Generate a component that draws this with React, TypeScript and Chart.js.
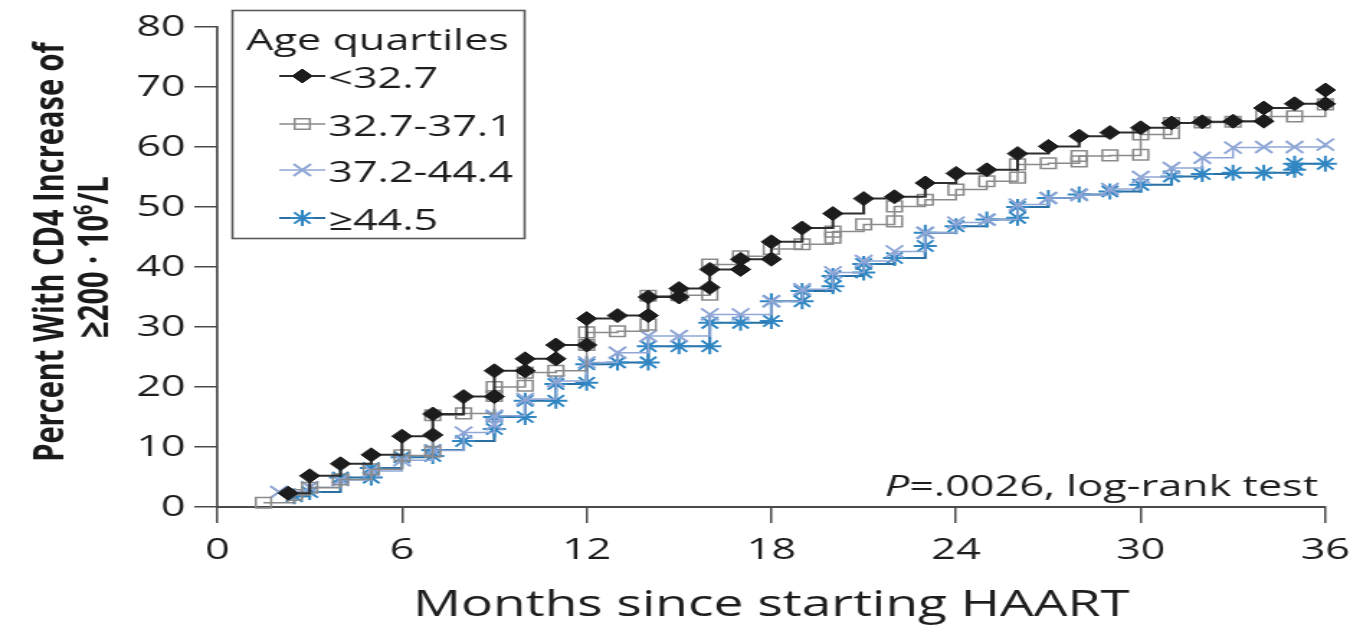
import React, { useEffect, useRef } from 'react';
import { Chart, registerables } from 'chart.js';

Chart.register(...registerables);

// The chart is rendered on a narrower backing canvas and widened with CSS.
const CANVAS_W = 947;
const CANVAS_H = 628;
const PAGE_W = 1363;

const FONT = '"Open Sans", "DejaVu Sans", sans-serif';

const xTickValues = [0, 6, 12, 18, 24, 30, 36];
const yTickValues = [0, 10, 20, 30, 40, 50, 60, 70, 80];

const legendTitle = 'Age quartiles';
const groupLabels = ['<32.7', '32.7-37.1', '37.2-44.4', '≥44.5'];

// <32.7 years
const under327Months = [2.3, 3, 4, 5, 6, 7, 7, 8, 9, 9, 10, 10, 11, 11, 12, 12, 13, 14, 14, 15, 15, 16, 16, 17, 17, 18, 18, 19, 20, 21, 22, 23, 24, 25, 26, 27, 28, 29, 30, 31, 32, 33, 34, 34, 35, 36, 36];
const under327Pct = [2.3, 5.2, 7.2, 8.7, 11.8, 12.0, 15.5, 18.4, 18.4, 22.7, 22.7, 24.7, 24.7, 27.0, 27.0, 31.4, 31.9, 31.9, 35.0, 35.0, 36.4, 36.6, 39.6, 39.6, 41.3, 41.3, 44.2, 46.5, 48.9, 51.4, 51.7, 54.0, 55.6, 56.2, 58.9, 60.1, 61.8, 62.4, 63.2, 64.0, 64.2, 64.3, 64.3, 66.5, 67.2, 67.2, 69.5];

// 32.7-37.1 years
const mid1Months = [1.5, 2.5, 3, 4, 5, 6, 7, 7, 8, 9, 9, 10, 10, 11, 12, 12, 13, 14, 14, 15, 16, 16, 17, 18, 19, 20, 20, 21, 22, 22, 23, 24, 25, 26, 26, 27, 28, 28, 29, 30, 30, 31, 31, 32, 33, 34, 35, 36];
const mid1Pct = [0.7, 2.0, 3.2, 4.6, 6.3, 8.6, 9.2, 15.3, 15.6, 18.5, 20.0, 20.2, 22.4, 22.7, 27.0, 29.1, 29.3, 30.4, 35.2, 35.3, 35.4, 40.4, 41.8, 43.0, 43.8, 44.9, 45.9, 47.1, 47.6, 50.1, 51.2, 52.9, 54.3, 54.9, 57.1, 57.3, 57.6, 58.5, 58.6, 58.7, 62.1, 62.3, 64.0, 64.1, 64.2, 65.1, 65.1, 67.1];

// 37.2-44.4 years
const mid2Months = [2, 3, 4, 5, 6, 7, 8, 9, 9, 10, 11, 12, 13, 14, 15, 16, 17, 18, 19, 20, 21, 22, 23, 24, 25, 26, 27, 28, 29, 30, 31, 32, 33, 34, 35, 36];
const mid2Pct = [2.5, 3.3, 4.5, 6.0, 7.8, 9.4, 12.4, 13.8, 15.2, 18.0, 21.0, 24.1, 25.7, 28.5, 28.5, 32.1, 32.1, 34.3, 36.3, 39.1, 41.0, 42.6, 45.7, 47.4, 47.9, 50.4, 51.5, 52.0, 53.0, 55.0, 56.5, 58.2, 59.9, 60.0, 60.0, 60.4];

// >=44.5 years
const over445Months = [2.5, 3, 4, 5, 5, 6, 7, 7, 8, 9, 9, 10, 10, 11, 11, 12, 12, 13, 14, 14, 15, 16, 16, 17, 18, 18, 19, 19, 20, 20, 21, 21, 22, 23, 23, 24, 25, 26, 26, 27, 28, 29, 30, 31, 32, 33, 34, 35, 35, 36];
const over445Pct = [1.8, 2.5, 4.9, 4.9, 6.5, 8.3, 8.5, 9.5, 11.0, 13.0, 15.0, 15.0, 17.7, 17.7, 20.5, 20.7, 23.8, 24.1, 24.1, 26.8, 26.8, 26.8, 30.7, 30.7, 31.0, 34.3, 34.3, 36.0, 36.8, 38.5, 39.1, 40.5, 41.5, 43.5, 45.7, 46.8, 47.9, 48.2, 50.0, 51.5, 52.1, 52.6, 53.7, 55.1, 55.5, 55.7, 55.7, 56.2, 57.2, 57.2];

const toPoints = (months: number[], pct: number[]) =>
  months.map((m, i) => ({ x: m, y: pct[i] }));

type MarkerStyle = 'rectRot' | 'rect' | 'crossRot' | 'star';

function drawMarker(
  ctx: CanvasRenderingContext2D,
  style: MarkerStyle,
  x: number,
  y: number,
  r: number,
  fill: string,
  stroke: string,
  lw: number
) {
  ctx.save();
  ctx.lineWidth = lw;
  ctx.strokeStyle = stroke;
  ctx.fillStyle = fill;
  ctx.beginPath();
  const d = r * Math.SQRT1_2;
  if (style === 'rectRot') {
    ctx.moveTo(x - r, y);
    ctx.lineTo(x, y - r);
    ctx.lineTo(x + r, y);
    ctx.lineTo(x, y + r);
    ctx.closePath();
    ctx.fill();
    ctx.stroke();
  } else if (style === 'rect') {
    ctx.rect(x - d, y - d, 2 * d, 2 * d);
    ctx.fill();
    ctx.stroke();
  } else {
    ctx.moveTo(x - d, y - d);
    ctx.lineTo(x + d, y + d);
    ctx.moveTo(x + d, y - d);
    ctx.lineTo(x - d, y + d);
    if (style === 'star') {
      ctx.moveTo(x - r, y);
      ctx.lineTo(x + r, y);
      ctx.moveTo(x, y - r);
      ctx.lineTo(x, y + r);
    }
    ctx.stroke();
  }
  ctx.restore();
}

// Legend box, test annotation and the two-line y-axis title
const annotations = {
  id: 'annotations',
  afterDraw(chart: any) {
    const ctx: CanvasRenderingContext2D = chart.ctx;
    ctx.save();

    // legend
    ctx.strokeStyle = '#5a5a5a';
    ctx.lineWidth = 1.6;
    ctx.strokeRect(161.5, 10.5, 203, 228);
    ctx.fillStyle = '#1e1e1e';
    ctx.textAlign = 'left';
    ctx.textBaseline = 'alphabetic';
    ctx.font = `30px ${FONT}`;
    ctx.fillText(legendTitle, 171, 50);
    const baselines = [88, 136, 182, 230];
    chart.data.datasets.forEach((ds: any, i: number) => {
      const yb = baselines[i];
      const yl = yb - 12;
      ctx.save();
      ctx.strokeStyle = ds.borderColor;
      ctx.lineWidth = ds.borderWidth;
      ctx.beginPath();
      ctx.moveTo(194, yl);
      ctx.lineTo(226, yl);
      ctx.stroke();
      ctx.restore();
      drawMarker(ctx, ds.pointStyle, 210, yl, ds.pointRadius, ds.pointBackgroundColor, ds.pointBorderColor, ds.pointBorderWidth);
      ctx.fillStyle = '#1e1e1e';
      ctx.font = `30px ${FONT}`;
      ctx.fillText(groupLabels[i], 228, yb);
    });

    // log-rank annotation, right aligned inside the plot
    const right = chart.chartArea.right - 5;
    const base = 496;
    ctx.font = `italic 30px ${FONT}`;
    const pW = ctx.measureText('P').width;
    ctx.font = `30px ${FONT}`;
    const rest = '=.0026, log-rank test';
    const rW = ctx.measureText(rest).width;
    const startX = right - pW - rW;
    ctx.font = `italic 30px ${FONT}`;
    ctx.fillText('P', startX, base);
    ctx.font = `30px ${FONT}`;
    ctx.fillText(rest, startX + pW, base);

    // y-axis title
    const cy = (chart.chartArea.top + chart.chartArea.bottom) / 2 - 15;
    ctx.fillStyle = '#1a1a1a';
    ctx.font = `bold 29px ${FONT}`;
    ctx.save();
    ctx.translate(43.5, cy);
    ctx.rotate(-Math.PI / 2);
    ctx.textAlign = 'center';
    ctx.fillText('Percent With CD4 Increase of', 0, 0);
    ctx.restore();

    const partA = '≥200 · 10';
    const partB = '6';
    const partC = '/L';
    ctx.font = `bold 29px ${FONT}`;
    const wA = ctx.measureText(partA).width;
    const wC = ctx.measureText(partC).width;
    ctx.font = `bold 18px ${FONT}`;
    const wB = ctx.measureText(partB).width;
    const total = wA + wB + wC;
    ctx.save();
    ctx.translate(75, cy + 5);
    ctx.rotate(-Math.PI / 2);
    ctx.textAlign = 'left';
    let tx = -total / 2;
    ctx.font = `bold 29px ${FONT}`;
    ctx.fillText(partA, tx, 0);
    tx += wA;
    ctx.font = `bold 18px ${FONT}`;
    ctx.fillText(partB, tx, -11);
    tx += wB;
    ctx.font = `bold 29px ${FONT}`;
    ctx.fillText(partC, tx, 0);
    ctx.restore();

    ctx.restore();
  },
};

export default function App() {
  const canvasRef = useRef<HTMLCanvasElement | null>(null);

  useEffect(() => {
    document.body.style.margin = '0';
    const canvas = canvasRef.current;
    if (!canvas) return;

    const datasets: any[] = [
      {
        label: groupLabels[0],
        data: toPoints(under327Months, under327Pct),
        borderColor: '#2e2e2e',
        borderWidth: 2,
        pointStyle: 'rectRot',
        pointRadius: 7,
        pointBackgroundColor: '#1c1c1c',
        pointBorderColor: '#1c1c1c',
        pointBorderWidth: 1,
      },
      {
        label: groupLabels[1],
        data: toPoints(mid1Months, mid1Pct),
        borderColor: '#8a8a8a',
        borderWidth: 1.5,
        pointStyle: 'rect',
        pointRadius: 7.5,
        pointBackgroundColor: 'rgba(255,255,255,0)',
        pointBorderColor: '#8a8a8a',
        pointBorderWidth: 1.5,
      },
      {
        label: groupLabels[2],
        data: toPoints(mid2Months, mid2Pct),
        borderColor: '#8fa6d6',
        borderWidth: 1.5,
        pointStyle: 'crossRot',
        pointRadius: 8.5,
        pointBackgroundColor: 'rgba(255,255,255,0)',
        pointBorderColor: '#8fa6d6',
        pointBorderWidth: 2,
      },
      {
        label: groupLabels[3],
        data: toPoints(over445Months, over445Pct),
        borderColor: '#2a6fa3',
        borderWidth: 2,
        pointStyle: 'star',
        pointRadius: 8,
        pointBackgroundColor: 'rgba(255,255,255,0)',
        pointBorderColor: '#2f86c2',
        pointBorderWidth: 2,
      },
    ].map((d) => ({ ...d, stepped: 'before', fill: false, clip: false, tension: 0 }));

    const chart = new Chart(canvas, {
      type: 'line',
      data: { datasets },
      options: {
        animation: false,
        responsive: false,
        maintainAspectRatio: false,
        devicePixelRatio: 1,
        events: [],
        layout: { padding: { top: 27, right: 17, left: 0, bottom: 0 } },
        plugins: {
          legend: { display: false },
          tooltip: { enabled: false },
          title: { display: false },
        },
        scales: {
          x: {
            type: 'linear',
            min: 0,
            max: 36,
            afterBuildTicks: (axis: any) => {
              axis.ticks = xTickValues.map((v) => ({ value: v }));
            },
            afterFit: (scale: any) => {
              scale.height = 121;
            },
            ticks: {
              font: { family: FONT, size: 30 },
              color: '#1e1e1e',
              padding: 9,
              maxRotation: 0,
            },
            grid: {
              drawOnChartArea: false,
              drawTicks: true,
              tickLength: 16,
              color: '#4a4a4a',
              lineWidth: 1.5,
            },
            border: { display: true, color: '#4a4a4a', width: 2 },
            title: {
              display: true,
              text: 'Months since starting HAART',
              font: { family: FONT, size: 37 },
              color: '#1e1e1e',
              padding: { top: 0, bottom: 0 },
            },
          },
          y: {
            type: 'linear',
            min: 0,
            max: 80,
            afterBuildTicks: (axis: any) => {
              axis.ticks = yTickValues.map((v) => ({ value: v }));
            },
            afterFit: (scale: any) => {
              scale.width = 151;
            },
            ticks: {
              font: { family: FONT, size: 30 },
              color: '#1e1e1e',
              padding: 6,
            },
            grid: {
              drawOnChartArea: false,
              drawTicks: true,
              tickLength: 16,
              color: '#4a4a4a',
              lineWidth: 1.5,
            },
            border: { display: true, color: '#4a4a4a', width: 1.7 },
          },
        },
      },
      plugins: [annotations],
    });

    return () => chart.destroy();
  }, []);

  return (
    <canvas
      ref={canvasRef}
      width={CANVAS_W}
      height={CANVAS_H}
      style={{ width: `${PAGE_W}px`, height: `${CANVAS_H}px`, display: 'block' }}
    />
  );
}
